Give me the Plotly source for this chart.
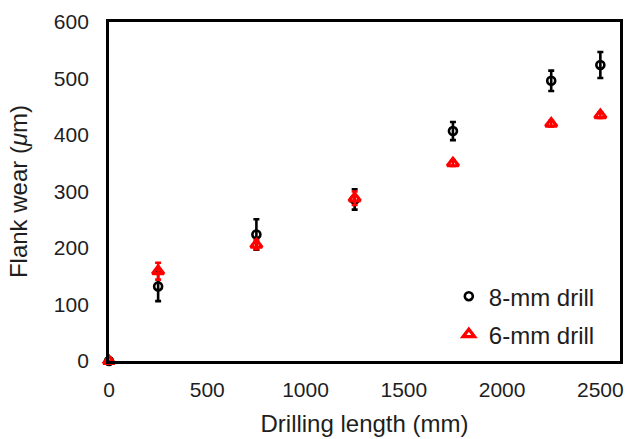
import plotly.graph_objects as go

# Drilling length (mm) and measured flank wear (µm) with standard deviations
length_mm = [0, 250, 750, 1250, 1750, 2250, 2500]
wear_8mm = [0, 132, 224, 286, 407, 496, 524]
err_8mm = [0, 26, 27, 18, 16, 18, 23]
wear_6mm = [0, 159, 206, 288, 350, 420, 435]
err_6mm = [0, 15, 8, 12, 5, 5, 5]

x_ticks = [0, 500, 1000, 1500, 2000, 2500]
y_ticks = [0, 100, 200, 300, 400, 500, 600]

FONT = "Liberation Sans, Arial, sans-serif"
TEXT = "#1e1e1e"

fig = go.Figure()
fig.add_trace(go.Scatter(
    x=length_mm, y=wear_8mm, mode="markers", name="8-mm drill", legend="legend",
    cliponaxis=False,
    marker=dict(symbol="circle-open", size=8, color="black", line=dict(width=2.6)),
    error_y=dict(type="data", array=err_8mm, color="black", thickness=2.6, width=3),
))
fig.add_trace(go.Scatter(
    x=length_mm, y=wear_6mm, mode="markers", name="6-mm drill", legend="legend2",
    cliponaxis=False,
    marker=dict(symbol="triangle-up-open", size=10, color="red", line=dict(width=3.2)),
    error_y=dict(type="data", array=err_6mm, color="red", thickness=2.6, width=3),
))

legend_style = dict(xanchor="left", yanchor="middle", bgcolor="rgba(0,0,0,0)",
                    font=dict(family=FONT, size=24, color=TEXT), borderwidth=0)
fig.update_layout(
    width=629, height=439,
    margin=dict(l=109, r=5, t=22, b=77),
    paper_bgcolor="white", plot_bgcolor="white",
    font=dict(family=FONT, size=21, color=TEXT),
    showlegend=True,
    legend=dict(x=0.665, y=0.19, **legend_style),
    legend2=dict(x=0.665, y=0.078, **legend_style),
)
fig.update_xaxes(
    range=[0, 2600], tickvals=x_ticks, ticktext=[str(v) for v in x_ticks],
    showgrid=False, zeroline=False, showline=True, linecolor="black", linewidth=2.8,
    mirror=True, ticks="", ticklabelstandoff=8,
    tickfont=dict(family=FONT, size=21, color=TEXT),
    title=dict(text="Drilling length (mm)", font=dict(family=FONT, size=24, color=TEXT),
               standoff=16),
)
fig.update_yaxes(
    range=[0, 600], tickvals=y_ticks, ticktext=[str(v) for v in y_ticks],
    showgrid=False, zeroline=False, showline=True, linecolor="black", linewidth=2.8,
    mirror=True, ticks="", ticklabelstandoff=13,
    tickfont=dict(family=FONT, size=21, color=TEXT),
    title=dict(text="Flank wear (<i>μ</i>m)", font=dict(family=FONT, size=24, color=TEXT),
               standoff=20),
)

fig.write_html("out.html")
